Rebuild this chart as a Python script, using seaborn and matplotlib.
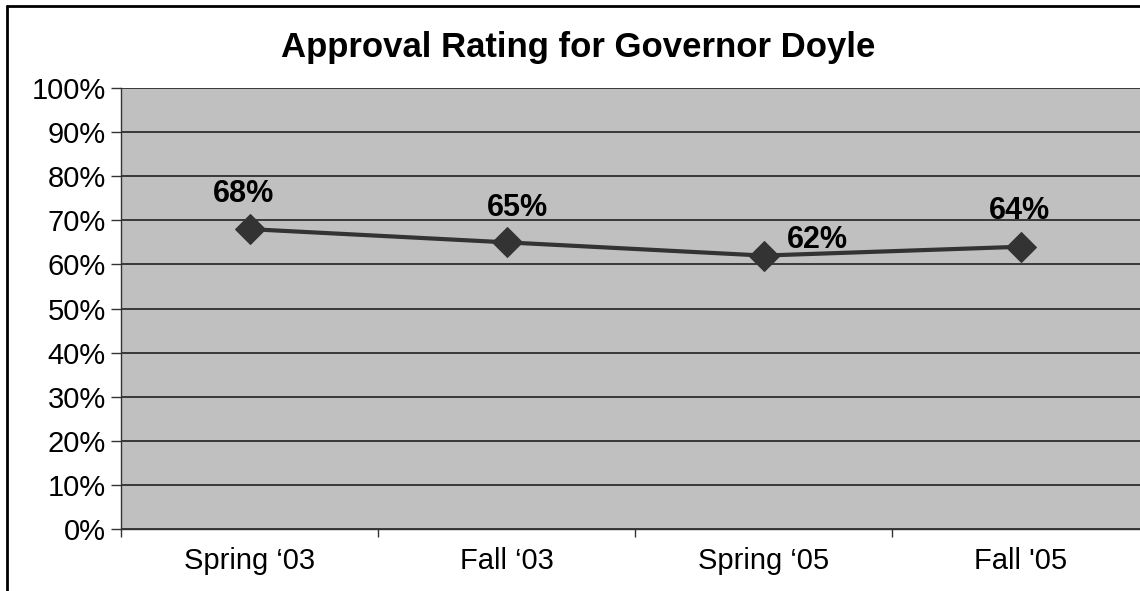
import matplotlib
matplotlib.use("Agg")
import matplotlib.pyplot as plt
import seaborn as sns
import pandas as pd
from matplotlib.lines import Line2D
from matplotlib.ticker import FixedLocator, PercentFormatter

seasons = ["Spring \u201803", "Fall \u201803", "Spring \u201805", "Fall '05"]
approval = [68, 65, 62, 64]
label_offsets = [(-4, 25), (8, 25), (39, 11), (-1, 26)]

sns.set_style("white")
plt.rcParams["font.family"] = ["Liberation Sans", "DejaVu Sans"]
plt.rcParams["text.color"] = "black"

df = pd.DataFrame({"season": seasons, "approval": approval})

fig = plt.figure(figsize=(11.4, 5.91), dpi=100)
ax = fig.add_axes([121 / 1140, 62 / 591, 1028 / 1140, 441 / 591])
ax.set_facecolor("#c0c0c0")

sns.lineplot(data=df, x="season", y="approval", ax=ax, color="#333333",
             linewidth=3, marker="D", markersize=15, markeredgecolor="#333333",
             sort=False)

for i, (val, off) in enumerate(zip(approval, label_offsets)):
    ax.annotate(f"{val}%", (i, val), xytext=off, textcoords="offset points",
                ha="center", va="center", fontsize=22, fontweight="bold",
                color="black")

ax.set_ylim(0, 100)
ax.set_xlim(-0.5, 3.5)
ax.yaxis.set_major_locator(FixedLocator(range(0, 101, 10)))
ax.yaxis.set_major_formatter(PercentFormatter(decimals=0))
ax.grid(axis="y", color="#222222", linewidth=1.2)
ax.set_axisbelow(True)

ax.set_xticks(range(len(seasons)))
ax.set_xticklabels(seasons)
ax.xaxis.set_minor_locator(FixedLocator([-0.5, 0.5, 1.5, 2.5, 3.5]))
ax.tick_params(axis="x", which="major", length=0, pad=13, labelsize=21,
               labelcolor="black")
ax.tick_params(axis="x", which="minor", length=6, color="#333333", width=1,
               direction="out", bottom=True)
ax.tick_params(axis="y", length=7, color="#333333", width=1, direction="out",
               left=True, labelsize=21, pad=4, labelcolor="black")

for side in ["top", "right"]:
    ax.spines[side].set_visible(False)
for side in ["left", "bottom"]:
    ax.spines[side].set_color("#333333")
    ax.spines[side].set_linewidth(1)

ax.set_xlabel("")
ax.set_ylabel("")

fig.suptitle("Approval Rating for Governor Doyle", x=578 / 1140, y=1 - 48 / 591,
             va="center", fontsize=25, fontweight="bold", color="black")

# outer chart frame (top and left edges visible)
fig.add_artist(Line2D([7 / 1140, 1], [1 - 6 / 591, 1 - 6 / 591],
                      transform=fig.transFigure, color="black", linewidth=2))
fig.add_artist(Line2D([7 / 1140, 7 / 1140], [0, 1 - 6 / 591],
                      transform=fig.transFigure, color="black", linewidth=2))

fig.savefig("out.png", dpi=100)
